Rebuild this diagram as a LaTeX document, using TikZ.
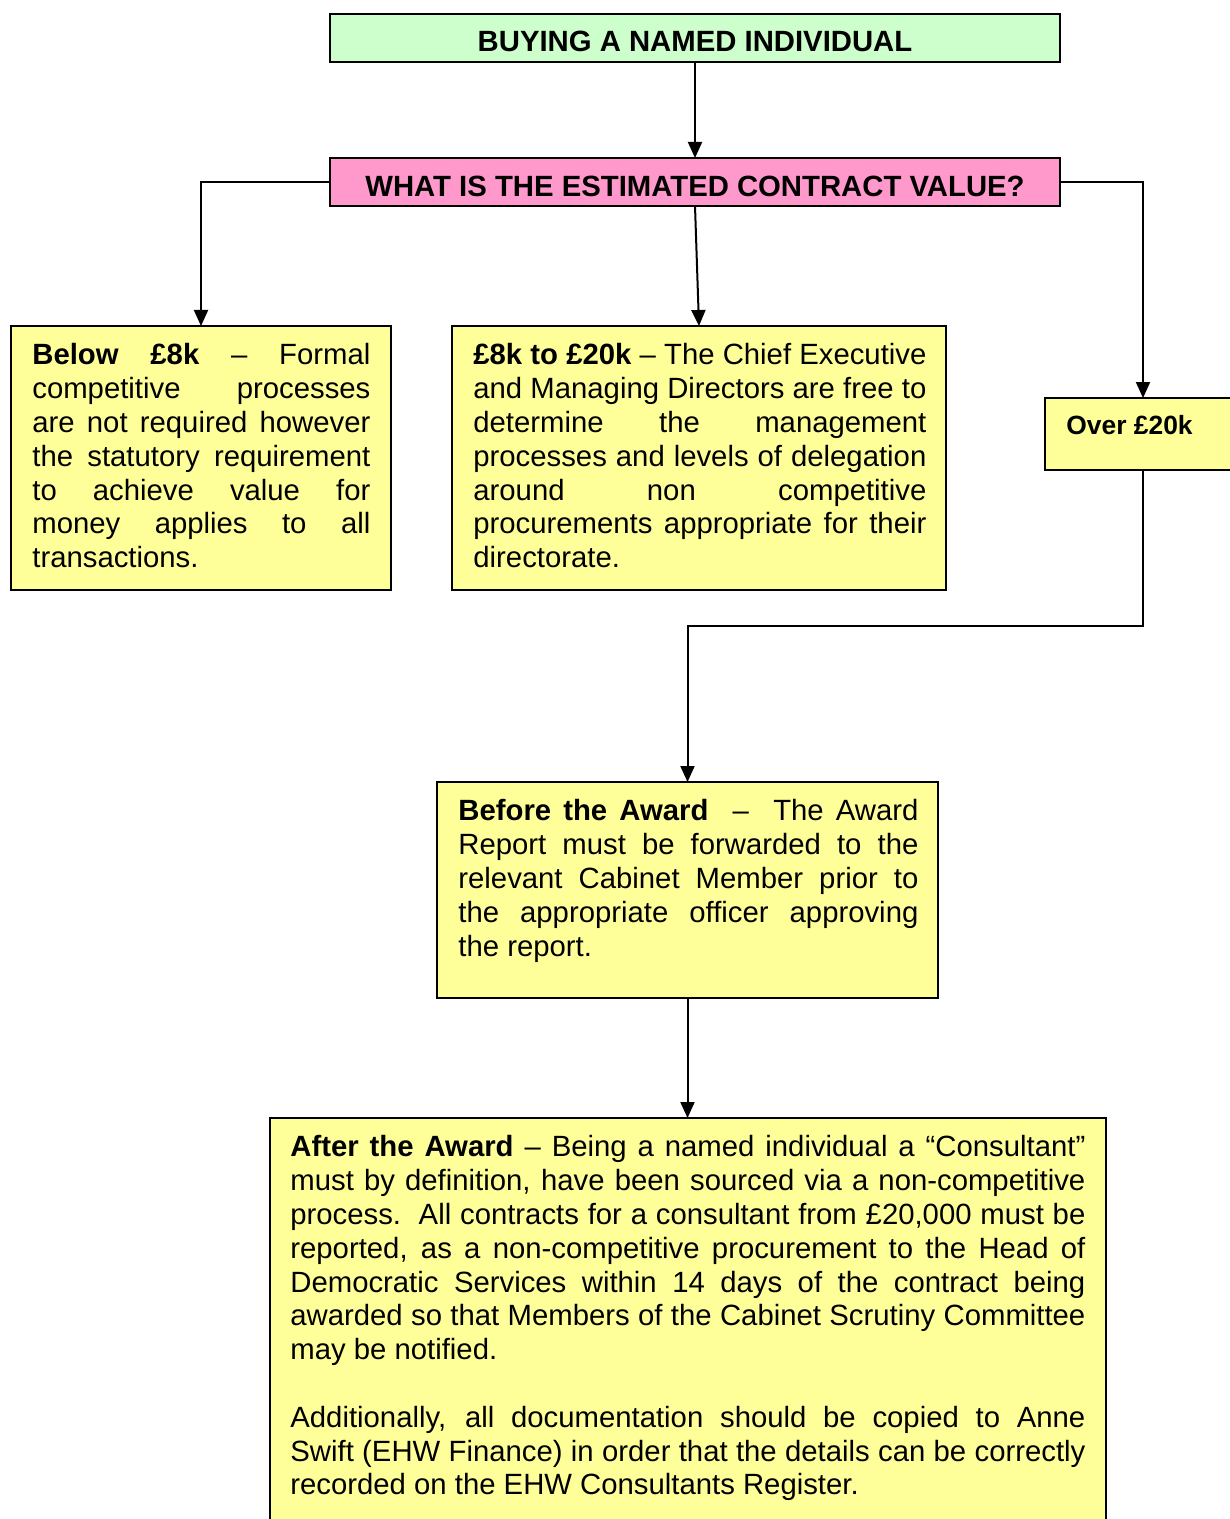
\documentclass[tikz,border=0pt]{standalone}
\usepackage{fontspec}
\setmainfont{Liberation Sans}
\usetikzlibrary{arrows.meta}

\definecolor{boxgreen}{HTML}{CCFFCC}
\definecolor{boxpink}{HTML}{FF99CC}
\definecolor{boxyellow}{HTML}{FFFF99}

% body text of the flow chart: Arial-metric sans, single spacing
\newcommand\flowfont{\fontsize{14.65pt}{16.9pt}\selectfont}
% slightly smaller label for the short "Over" box
\newcommand\smallflowfont{\fontsize{13.2pt}{15.2pt}\selectfont}
% first-line strut so every paragraph starts at a known baseline
\newcommand\firststrut{\rule{0pt}{11pt}}

% keep the hand-set line breaks: never hyphenate, allow any stretch
\tolerance=10000
\pretolerance=-1
\hyphenpenalty=10000
\exhyphenpenalty=10000

\tikzset{
  chartbox/.style={draw, line width=1pt, rectangle, inner sep=0pt, outer sep=0pt, anchor=north west},
  flow/.style={line width=1pt, -{Triangle[length=8pt,width=7pt]}},
  boxtext/.style={anchor=north west, inner sep=0pt, align=justify, font=\flowfont},
  headtext/.style={inner sep=0pt, font=\flowfont\bfseries}
}

\begin{document}
\begin{tikzpicture}[x=0.5pt, y=-0.5pt]
  \useasboundingbox (0,0) rectangle (1230,1519);
  \clip (0,0) rectangle (1230,1519);
  \fill[white] (0,0) rectangle (1230,1519);

  % boxes
  \node[chartbox, fill=boxgreen, minimum width=365pt, minimum height=24pt] (title) at (330,14) {};
  \node[chartbox, fill=boxpink, minimum width=365pt, minimum height=24pt] (question) at (330,158) {};
  \node[chartbox, fill=boxyellow, minimum width=190pt, minimum height=132pt] (below) at (11,326) {};
  \node[chartbox, fill=boxyellow, minimum width=247pt, minimum height=132pt] (middle) at (452,326) {};
  \node[chartbox, fill=boxyellow, minimum width=98pt, minimum height=36pt] (over) at (1045,398) {};
  \node[chartbox, fill=boxyellow, minimum width=250.5pt, minimum height=108pt] (before) at (437,782) {};
  \node[chartbox, fill=boxyellow, minimum width=418pt, minimum height=225pt] (after) at (270,1118) {};

  % headings
  \node[headtext] (titletext) at (695,41) {BUYING A NAMED INDIVIDUAL};
  \node[headtext] (questiontext) at (695,186) {WHAT IS THE ESTIMATED CONTRACT VALUE?};

  % box contents
  \node[boxtext, text width=169pt] (belowtext) at (32,342.5) {\firststrut\textbf{Below £8k} – Formal\linebreak
    competitive processes\linebreak
    are not required however\linebreak
    the statutory requirement\linebreak
    to achieve value for\linebreak
    money applies to all\linebreak
    transactions.};

  \node[boxtext, text width=226.5pt] (middletext) at (473,342.5) {\firststrut\textbf{£8k to £20k} – The Chief Executive\linebreak
    and Managing Directors are free to\linebreak
    determine the management\linebreak
    processes and levels of delegation\linebreak
    around non competitive\linebreak
    procurements appropriate for their\linebreak
    directorate.};

  \node[headtext, font=\smallflowfont\bfseries, anchor=base west] (overtext) at (1066,434) {Over £20k};

  \node[boxtext, text width=230pt] (beforetext) at (458,798.5) {\firststrut\textbf{Before the Award}\ \ –\ \ The Award\linebreak
    Report must be forwarded to the\linebreak
    relevant Cabinet Member prior to\linebreak
    the appropriate officer approving\linebreak
    the report.};

  \node[boxtext, text width=397.5pt] (aftertext) at (290,1134.5) {\firststrut\textbf{After the Award} – Being a named individual a “Consultant”\linebreak
    must by definition, have been sourced via a non-competitive\linebreak
    process.\ \ All contracts for a consultant from £20,000 must be\linebreak
    reported, as a non-competitive procurement to the Head of\linebreak
    Democratic Services within 14 days of the contract being\linebreak
    awarded so that Members of the Cabinet Scrutiny Committee\linebreak
    may be notified.\par\vskip16.9pt\noindent
    Additionally, all documentation should be copied to Anne\linebreak
    Swift (EHW Finance) in order that the details can be correctly\linebreak
    recorded on the EHW Consultants Register.};

  % connectors
  \coordinate (overturn) at (over.south |- 0,626);
  \draw[flow] (title.south) -- (question.north);
  \draw[flow] (question.west) -| (below.north);
  \draw[flow] (question.south) -- (middle.north);
  \draw[flow] (question.east) -| (over.north);
  \draw[flow] (over.south) -- (overturn) -| (before.north);
  \draw[flow] (before.south) -- (before.south |- after.north);
\end{tikzpicture}
\end{document}
